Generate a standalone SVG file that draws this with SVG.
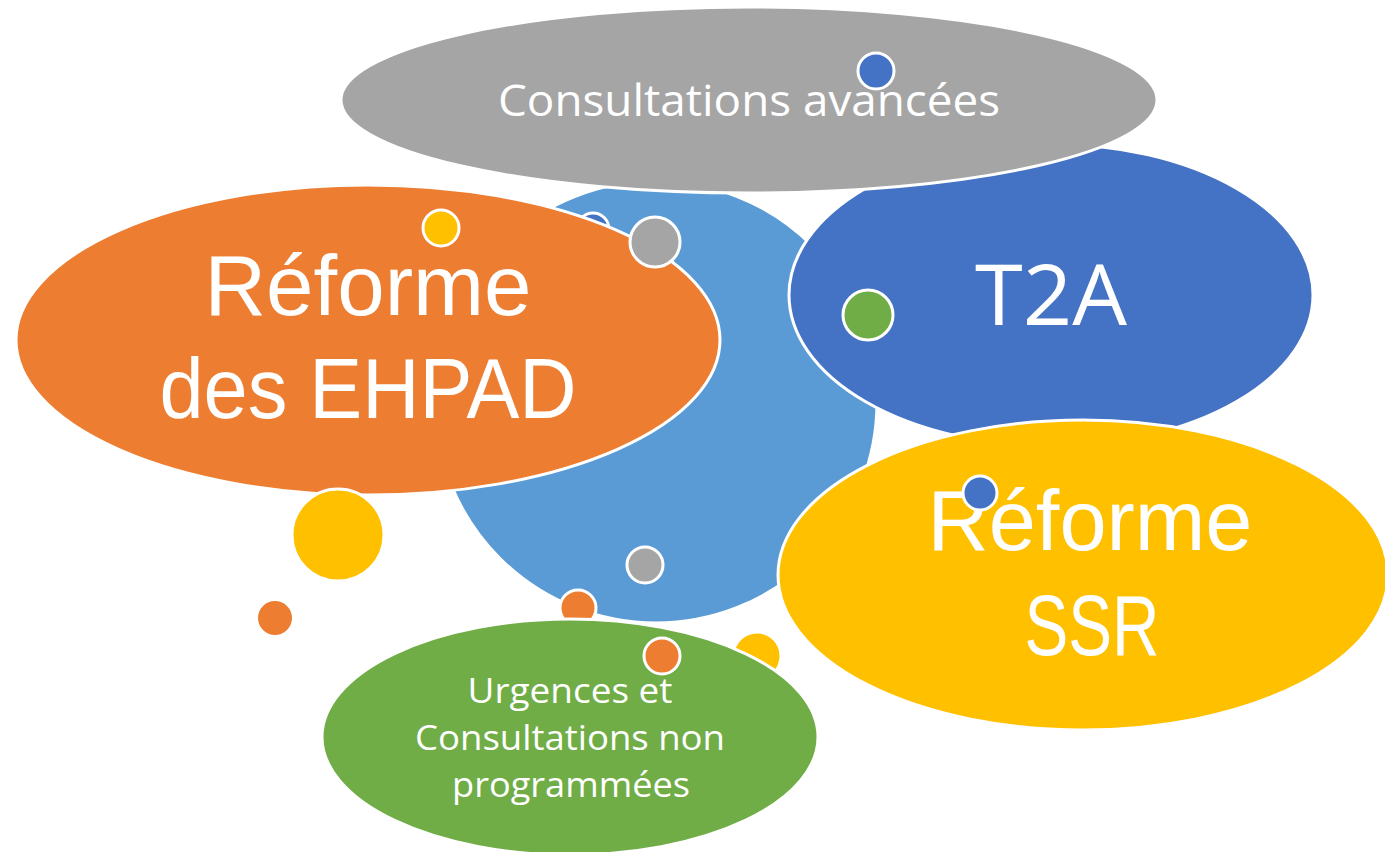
<svg xmlns="http://www.w3.org/2000/svg" width="1385" height="852" viewBox="0 0 1385 852">
<style>
.s{stroke:#fff;stroke-width:3}
.t{fill:#fff;font-family:"Open Sans","Liberation Sans",sans-serif;text-anchor:middle}
.b{fill:#fff;font-family:"Liberation Sans",Arial,sans-serif;text-anchor:middle;font-size:86px}
</style>
<rect width="1385" height="852" fill="#fff"/>
<g id="bg-circle"><circle class="s" cx="656" cy="402" r="221" fill="#5B9BD5"/></g>
<g id="dot-blue-hidden"><circle class="s" cx="593" cy="229" r="16" fill="#4472C4"/></g>
<g id="t2a">
<ellipse class="s" cx="1051" cy="295" rx="262" ry="151" fill="#4472C4"/>
<text class="t" x="1051" y="325" font-size="84" textLength="152" lengthAdjust="spacingAndGlyphs">T2A</text>
<circle class="s" cx="868" cy="315" r="25" fill="#70AD47"/>
</g>
<g id="consultations-avancees">
<ellipse class="s" cx="749" cy="100" rx="408" ry="93" fill="#A5A5A5"/>
<text class="t" x="749" y="116" font-size="44" textLength="502" lengthAdjust="spacingAndGlyphs">Consultations avancées</text>
<circle class="s" cx="876" cy="71" r="18" fill="#4472C4"/>
</g>
<g id="ehpad">
<ellipse class="s" cx="368" cy="340" rx="352" ry="155" fill="#ED7D31"/>
<text class="b" x="368" y="315" textLength="327" lengthAdjust="spacingAndGlyphs">Réforme</text>
<text class="b" x="368" y="418" textLength="417" lengthAdjust="spacingAndGlyphs">des EHPAD</text>
<circle class="s" cx="441" cy="228" r="18" fill="#FFC000"/>
<circle class="s" cx="655" cy="242" r="25" fill="#A5A5A5"/>
</g>
<g id="ssr">
<ellipse class="s" cx="1083" cy="575" rx="305" ry="155" fill="#FFC000"/>
<text class="b" x="1090" y="550" textLength="325" lengthAdjust="spacingAndGlyphs">Réforme</text>
<text class="b" x="1092" y="655" textLength="135" lengthAdjust="spacingAndGlyphs">SSR</text>
<circle class="s" cx="980" cy="493" r="17" fill="#4472C4"/>
</g>
<g id="dots">
<circle class="s" cx="338" cy="535" r="46" fill="#FFC000"/>
<circle cx="275" cy="618" r="17" fill="#ED7D31"/>
<circle class="s" cx="645" cy="565" r="18" fill="#A5A5A5"/>
<circle class="s" cx="578" cy="608" r="18" fill="#ED7D31"/>
<circle class="s" cx="757" cy="656" r="24" fill="#FFC000"/>
</g>
<g id="urgences">
<ellipse class="s" cx="570" cy="737" rx="248" ry="118" fill="#70AD47"/>
<text class="t" x="570" y="703" font-size="35" textLength="205" lengthAdjust="spacingAndGlyphs">Urgences et</text>
<text class="t" x="570" y="750" font-size="35" textLength="310" lengthAdjust="spacingAndGlyphs">Consultations non</text>
<text class="t" x="571" y="797" font-size="35" textLength="238" lengthAdjust="spacingAndGlyphs">programmées</text>
<circle class="s" cx="662" cy="656" r="18" fill="#ED7D31"/>
</g>
<g id="connectors"></g>
</svg>
